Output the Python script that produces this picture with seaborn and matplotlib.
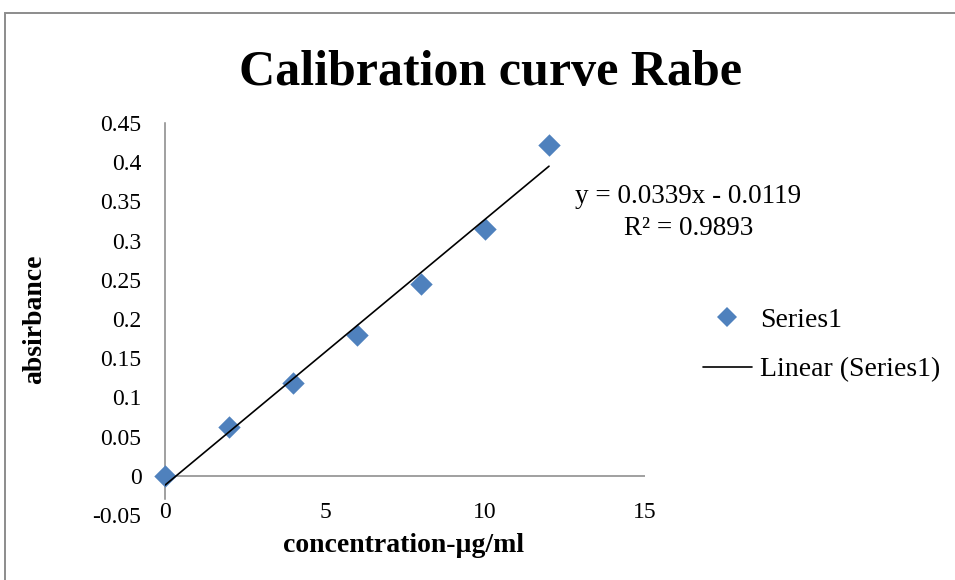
import matplotlib
matplotlib.use("Agg")
import matplotlib.pyplot as plt
from matplotlib.patches import Rectangle
from matplotlib.lines import Line2D
import seaborn as sns
import pandas as pd
import numpy as np

# ---- data ----
concentration = [0, 2, 4, 6, 8, 10, 12]
absorbance = [0.0, 0.0625, 0.118, 0.180, 0.245, 0.315, 0.422]
slope = 0.0339
intercept = -0.0119
r_squared = 0.9893
x_ticks = [0, 5, 10, 15]
y_ticks = [-0.05, 0, 0.05, 0.1, 0.15, 0.2, 0.25, 0.3, 0.35, 0.4, 0.45]
y_tick_labels = ["-0.05", "0", "0.05", "0.1", "0.15", "0.2", "0.25", "0.3", "0.35", "0.4", "0.45"]
title = "Calibration curve Rabe"
x_label = "concentration-µg/ml"
y_label = "absirbance"
series_name = "Series1"
trend_name = "Linear (Series1)"

sns.set_theme(style="white")
plt.rcParams['font.family'] = ['Liberation Serif', 'DejaVu Serif']
plt.rcParams['text.color'] = 'black'
plt.rcParams['axes.labelcolor'] = 'black'
plt.rcParams['xtick.color'] = 'black'
plt.rcParams['ytick.color'] = 'black'

W, H = 955, 580
fig = plt.figure(figsize=(W / 100, H / 100), dpi=100)
fig.patch.set_facecolor("white")

ax_l, ax_r, ax_t, ax_b = 165, 645, 123, 515
ax = fig.add_axes([ax_l / W, 1 - ax_b / H, (ax_r - ax_l) / W, (ax_b - ax_t) / H])
ax.set_facecolor("white")

df = pd.DataFrame({"x": concentration, "y": absorbance})
trend_x = [min(concentration), max(concentration)]
trend_df = pd.DataFrame({"x": trend_x, "y": [slope * v + intercept for v in trend_x]})

blue = "#4F81BD"
grey = "#868686"

ax.axhline(0, color=grey, lw=1.1, zorder=1)
sns.scatterplot(data=df, x="x", y="y", marker="D", s=130, color=blue,
                edgecolor=blue, linewidth=0, ax=ax, zorder=3, clip_on=False,
                legend=False)
sns.lineplot(data=trend_df, x="x", y="y", color="black", lw=1.2, ax=ax,
             zorder=4, legend=False)

ax.set_xlim(0, 15)
ax.set_ylim(-0.05, 0.45)
ax.set_xticks(x_ticks)
ax.set_xticklabels([str(v) for v in x_ticks])
ax.set_yticks(y_ticks)
ax.set_yticklabels(y_tick_labels)

for s in ["top", "right", "bottom"]:
    ax.spines[s].set_visible(False)
ax.spines["left"].set_color(grey)
ax.spines["left"].set_linewidth(1.1)
ax.spines["left"].set_bounds(-0.029, 0.45)

ax.tick_params(axis="x", length=0, pad=-9, labelsize=17, labelcolor="black")
ax.tick_params(axis="y", length=0, pad=17, labelsize=17, labelcolor="black")

ax.set_xlabel(x_label, fontsize=20, fontweight="bold", va="center")
ax.xaxis.set_label_coords((404 - ax_l) / (ax_r - ax_l), (ax_b - 545) / (ax_b - ax_t))
ax.set_ylabel(y_label, fontsize=20, fontweight="bold", va="center")
ax.yaxis.set_label_coords((35 - ax_l) / (ax_r - ax_l), (ax_b - 319) / (ax_b - ax_t))

fig.text(490 / W, 1 - 85 / H, title, ha="center", va="baseline",
         fontsize=36, fontweight="bold")

fig.text(688 / W, 1 - 203 / H, f"y = {slope:.4f}x - {abs(intercept):.4f}",
         ha="center", va="baseline", fontsize=19.5)
fig.text(689 / W, 1 - 235 / H, f"R² = {r_squared:.4f}",
         ha="center", va="baseline", fontsize=19.5)

handles = [
    Line2D([], [], marker="D", linestyle="none", color=blue, markersize=10.5,
           markeredgewidth=0),
    Line2D([], [], color="black", lw=1.2),
]
fig.legend(handles, [series_name, trend_name], loc="center left",
           bbox_to_anchor=(703 / W, 1 - 345 / H), frameon=False,
           fontsize=20, handlelength=1.75, handletextpad=0.3,
           labelspacing=0.85, borderpad=0, borderaxespad=0)

fig.patches.append(Rectangle((5 / W, -0.1), 1.2, 1 - 13 / H + 0.1,
                             transform=fig.transFigure, fill=False,
                             edgecolor="#8c8c8c", lw=1.4))

fig.savefig("out.png", dpi=100, facecolor="white")
